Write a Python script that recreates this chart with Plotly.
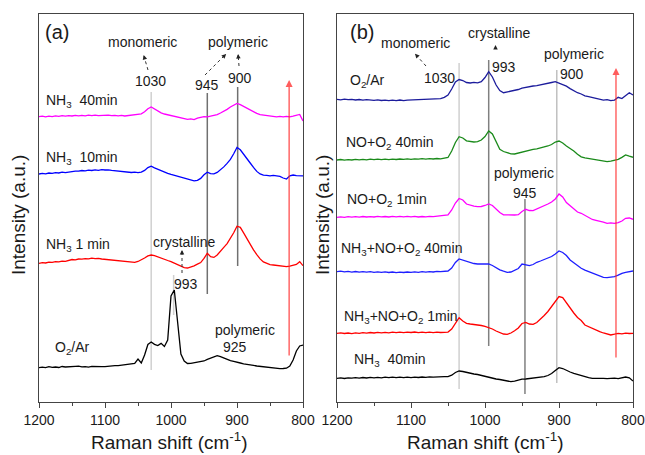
import plotly.graph_objects as go

# ---------------- data ----------------
raman_shift = list(range(1200, 795, -5))  # cm-1, 1200 -> 800

# panel (a) spectra (offset intensities, a.u.)
a_nh3_40min = [285.3, 285.8, 285.1, 285.9, 285.4, 286.1, 285.6, 286.3, 285.8, 286.4,
               286.0, 286.6, 286.1, 286.7, 286.2, 286.8, 286.3, 286.9, 286.4, 286.8,
               286.5, 286.9, 286.3, 286.7, 286.1, 286.6, 286.0, 286.5, 286.4, 287.0,
               287.4, 288.2, 290.2, 293.3, 295.0, 293.2, 290.6, 289.1, 288.0, 287.3,
               286.4, 285.6, 284.6, 284.0, 283.4, 282.7, 283.2, 282.4, 283.9, 285.0,
               285.4, 285.2, 285.9, 286.6, 287.4, 289.0, 290.6, 292.6, 295.0, 297.1,
               298.6, 297.4, 295.6, 293.4, 291.6, 289.9, 288.6, 287.4, 287.0, 286.2,
               285.9, 285.2, 285.1, 285.6, 285.1, 285.7, 285.2, 285.9, 286.6, 287.6,
               281.0]
a_nh3_10min = [228.0, 228.6, 228.2, 229.0, 228.6, 229.4, 229.0, 229.8, 229.4, 230.0,
               230.3, 230.9, 230.8, 231.5, 231.2, 231.9, 231.5, 232.2, 231.7, 232.3,
               232.0, 232.2, 231.6, 231.3, 230.6, 230.3, 229.8, 229.9, 229.5, 229.9,
               229.4, 229.9, 231.6, 234.4, 235.9, 234.2, 232.6, 231.2, 229.6, 228.6,
               227.6, 226.7, 225.6, 224.8, 223.6, 222.6, 222.1, 221.2, 221.6, 223.6,
               227.2, 229.8, 228.4, 228.1, 229.6, 232.1, 235.1, 238.6, 242.6, 248.2,
               254.5, 252.2, 248.1, 243.4, 239.0, 234.6, 230.6, 228.1, 226.8, 226.6,
               226.2, 226.6, 226.0, 225.6, 224.0, 223.0, 226.1, 227.0, 226.4, 226.5,
               226.2]
a_nh3_1min = [138.7, 139.3, 139.0, 139.8, 139.6, 140.4, 140.1, 140.9, 140.7, 141.5,
              142.5, 142.2, 143.0, 142.8, 143.4, 143.1, 143.8, 143.3, 143.6, 143.0,
              142.6, 142.1, 141.8, 141.3, 141.0, 140.5, 140.3, 139.8, 139.8, 139.6,
              140.5, 142.0, 144.0, 146.1, 147.0, 146.4, 145.0, 143.8, 142.6, 141.5,
              140.4, 138.8, 137.2, 135.9, 134.4, 134.0, 134.9, 136.2, 137.8, 139.4,
              143.6, 148.7, 145.4, 144.6, 147.1, 150.4, 154.6, 158.4, 163.6, 169.2,
              175.8, 174.6, 169.1, 163.2, 157.4, 152.1, 147.4, 143.1, 140.1, 138.4,
              137.4, 137.0, 136.6, 136.2, 135.6, 135.3, 135.9, 136.4, 137.6, 140.3,
              136.3]
a_o2_ar = [34.3, 34.9, 34.4, 35.3, 34.6, 35.0, 34.5, 35.5, 35.0, 35.4,
           35.1, 35.7, 35.8, 35.2, 35.4, 34.9, 35.6, 35.3, 35.7, 35.4,
           35.3, 35.9, 36.0, 36.4, 36.3, 36.9, 37.2, 37.8, 38.3, 38.7,
           43.0, 39.0, 47.0, 57.5, 60.0, 57.6, 56.5, 58.6, 55.5, 62.0,
           106.0, 112.0, 80.0, 48.0, 41.0, 38.5, 38.6, 39.2, 39.6, 40.5,
           41.0, 42.6, 44.0, 45.6, 46.3, 45.4, 44.1, 42.1, 41.4, 40.6,
           39.5, 39.0, 38.1, 37.8, 37.0, 36.6, 36.0, 35.6, 35.0, 34.6,
           34.0, 34.2, 33.8, 33.4, 33.5, 33.8, 36.0, 42.0, 51.0, 56.0,
           57.0]

# panel (b) spectra
b_o2_ar = [302.7, 302.2, 302.9, 302.3, 302.6, 302.0, 302.5, 301.9, 302.4, 302.0,
           301.7, 302.2, 301.5, 301.9, 301.3, 301.8, 301.4, 302.0, 301.3, 301.9,
           302.0, 302.5, 302.1, 302.8, 302.3, 302.9, 302.6, 303.2, 303.4, 304.6,
           307.0, 313.0, 320.0, 322.5, 321.5, 319.5, 319.0, 319.6, 319.2, 320.4,
           324.5, 330.3, 325.0, 317.0, 311.5, 309.3, 310.0, 310.8, 311.3, 312.5,
           313.8, 314.7, 315.5, 316.0, 316.4, 317.0, 318.0, 318.5, 319.5, 320.3,
           319.0, 317.3, 315.8, 313.4, 311.0, 309.3, 308.0, 306.2, 305.3, 304.4,
           303.0, 302.7, 301.8, 302.4, 301.3, 301.9, 304.7, 303.5, 306.8, 309.3,
           307.0]
b_no_o2_40min = [242.0, 242.5, 241.8, 242.4, 242.0, 242.6, 242.1, 242.7, 242.2, 242.8,
                 242.3, 242.9, 242.4, 242.8, 242.3, 242.9, 242.5, 243.0, 242.6, 243.1,
                 242.7, 243.2, 242.8, 243.3, 242.9, 243.4, 243.0, 243.5, 243.2, 243.7,
                 244.5, 251.0, 259.5, 265.3, 264.0, 261.2, 260.5, 260.0, 260.3, 262.0,
                 265.5, 271.0, 268.0, 261.0, 252.7, 250.5, 249.0, 248.2, 248.0, 249.0,
                 249.8, 250.5, 251.5, 252.7, 253.2, 254.0, 255.3, 256.0, 257.5, 260.0,
                 261.0, 259.0, 256.0, 253.8, 251.0, 247.8, 245.2, 244.2, 243.5, 242.7,
                 242.3, 241.5, 240.8, 240.3, 240.9, 241.6, 242.7, 244.6, 247.0, 245.8,
                 244.7]
b_no_o2_1min = [184.7, 185.2, 184.6, 185.3, 184.8, 185.4, 184.9, 185.5, 185.0, 185.4,
                185.0, 185.6, 185.1, 185.5, 185.0, 185.6, 185.2, 185.7, 185.2, 185.6,
                185.1, 185.6, 185.0, 185.5, 185.1, 185.6, 185.3, 185.8, 185.6, 186.3,
                187.0, 192.0, 199.0, 203.5, 202.0, 198.0, 196.5, 195.8, 195.3, 195.5,
                196.5, 198.0, 196.5, 193.0, 189.5, 187.2, 187.0, 186.8, 187.0, 187.3,
                190.5, 192.7, 191.5, 191.3, 192.8, 194.6, 196.0, 198.0, 200.0, 203.0,
                208.0, 205.0, 199.5, 196.0, 192.5, 190.0, 188.7, 186.5, 184.5, 182.5,
                181.6, 181.0, 179.8, 178.7, 179.2, 178.6, 179.3, 181.0, 183.7, 184.0,
                182.7]
b_nh3_no_o2_40min = [130.3, 130.8, 130.1, 130.6, 129.9, 130.5, 129.8, 130.4, 129.9, 130.3,
                     129.7, 130.2, 129.6, 130.1, 129.5, 130.0, 129.4, 129.9, 129.5, 130.0,
                     129.6, 130.1, 129.7, 130.3, 129.8, 130.4, 130.0, 130.6, 130.3, 130.8,
                     131.0, 134.0, 139.5, 143.0, 141.8, 140.3, 139.0, 138.5, 138.0, 137.8,
                     137.6, 138.0, 136.5, 134.2, 132.2, 130.8, 129.7, 130.0, 131.5, 133.5,
                     138.0, 137.5, 136.3, 137.5, 139.7, 141.0, 142.5, 144.0, 145.5, 148.0,
                     151.0, 149.5, 146.5, 142.0, 139.0, 136.5, 133.7, 131.8, 130.2, 128.8,
                     127.5, 126.0, 124.6, 124.3, 124.8, 125.3, 126.8, 128.7, 129.7, 130.5,
                     131.0]
b_nh3_no_o2_1min = [68.7, 69.2, 68.5, 69.0, 68.4, 69.1, 68.6, 69.3, 68.9, 69.5,
                    69.0, 69.6, 69.1, 69.7, 69.2, 69.8, 69.3, 69.9, 69.4, 69.9,
                    69.5, 70.0, 69.4, 69.9, 69.3, 69.8, 69.4, 69.9, 69.5, 70.0,
                    69.9, 73.0, 79.0, 84.3, 81.0, 78.7, 78.0, 77.6, 77.0, 76.5,
                    75.6, 74.6, 73.0, 71.0, 69.5, 68.0, 67.7, 69.0, 71.2, 74.0,
                    78.5, 79.6, 78.0, 77.7, 79.5, 82.8, 86.5, 90.5, 95.3, 100.5,
                    105.5, 104.5, 99.0, 93.7, 89.0, 84.5, 81.5, 77.0, 75.3, 73.5,
                    71.5, 70.3, 69.0, 68.3, 67.0, 67.8, 68.7, 68.2, 68.9, 68.5,
                    68.7]
b_nh3_40min = [23.7, 24.1, 23.5, 24.2, 23.8, 24.4, 23.9, 24.5, 24.0, 24.6,
               24.1, 24.7, 24.2, 24.8, 24.3, 24.9, 24.4, 24.8, 24.3, 24.9,
               24.4, 24.9, 24.5, 25.0, 24.6, 25.1, 24.8, 25.2, 25.0, 25.4,
               25.3, 26.8, 29.5, 31.0, 30.5, 29.5, 28.8, 28.0, 27.5, 26.5,
               25.6, 24.8, 24.0, 23.0, 22.5, 21.8, 21.0, 20.3, 20.8, 22.2,
               22.8, 23.0, 23.4, 23.8, 24.3, 24.8, 25.3, 26.5, 28.5, 31.5,
               34.3, 33.5, 31.5, 30.0, 28.7, 27.5, 26.2, 25.0, 24.3, 23.7,
               23.9, 23.4, 23.7, 23.3, 23.6, 23.9, 23.4, 24.0, 25.0, 24.2,
               21.0]

# reference band positions (cm-1) and vertical extents (a.u.)
a_band_pos = [1030, 945, 899, 996]
a_band_lo = [32, 108, 136, 87]
a_band_hi = [310, 309, 315, 127]
b_band_pos = [1035, 995, 946, 903]
b_band_lo = [13, 56, 8, 19]
b_band_hi = [339, 342, 203, 332]
arrow_a = (821, 45, 322)
arrow_b = (823, 43, 334)

x_ticks = [1200, 1100, 1000, 900, 800]

# ---------------- figure ----------------
W, H = 645, 455
FONT = "Arial, Liberation Sans, sans-serif"

def px(x):
    return x / W

def py(y):
    return 1 - y / H

fig = go.Figure()

a_series = [(a_nh3_40min, "#ff00ff"), (a_nh3_10min, "#0000ff"),
            (a_nh3_1min, "#ff0000"), (a_o2_ar, "#000000")]
b_series = [(b_o2_ar, "#1c1c9c"), (b_no_o2_40min, "#1a8a1a"),
            (b_no_o2_1min, "#ff00ff"), (b_nh3_no_o2_40min, "#1f1fff"),
            (b_nh3_no_o2_1min, "#ff0000"), (b_nh3_40min, "#000000")]

for ys, c in a_series:
    fig.add_trace(go.Scatter(x=raman_shift, y=ys, mode="lines",
                             line=dict(color=c, width=1.3), xaxis="x", yaxis="y",
                             showlegend=False))
for ys, c in b_series:
    fig.add_trace(go.Scatter(x=raman_shift, y=ys, mode="lines",
                             line=dict(color=c, width=1.3), xaxis="x2", yaxis="y2",
                             showlegend=False))

shapes = []
a_colors = ["#d0d0d0", "#707070", "#707070", "#d0d0d0"]
for p, lo, hi, c in zip(a_band_pos, a_band_lo, a_band_hi, a_colors):
    shapes.append(dict(type="line", xref="x", yref="y", x0=p, x1=p, y0=lo, y1=hi,
                       line=dict(color=c, width=1.5), layer="below"))
b_colors = ["#d0d0d0", "#808080", "#808080", "#c0c0c0"]
for p, lo, hi, c in zip(b_band_pos, b_band_lo, b_band_hi, b_colors):
    shapes.append(dict(type="line", xref="x2", yref="y2", x0=p, x1=p, y0=lo, y1=hi,
                       line=dict(color=c, width=1.5), layer="below"))

# dotted leader lines (pixel positions)
dotted = [((148, 70), (144.5, 58)), ((205, 75), (224, 56)), ((239, 66), (238.3, 57)),
          ((182, 273), (182, 253)), ((426, 66), (417, 56))]
annotations = []
for (x0, y0), (x1, y1) in dotted:
    shapes.append(dict(type="line", xref="paper", yref="paper",
                       x0=px(x0), y0=py(y0), x1=px(x1), y1=py(y1),
                       line=dict(color="#333333", width=1, dash="dot")))
    dx, dy = x0 - x1, y0 - y1
    n = (dx * dx + dy * dy) ** 0.5
    annotations.append(dict(xref="paper", yref="paper", x=px(x1 - dx / n * 3), y=py(y1 - dy / n * 3),
                            ax=dx / n * 5, ay=dy / n * 5, text="", showarrow=True,
                            arrowhead=2, arrowsize=0.9, arrowwidth=1, arrowcolor="#222"))
# tiny crystalline arrow in (b)
annotations.append(dict(xref="paper", yref="paper", x=px(495.5), y=py(45), ax=0, ay=5,
                        text="", showarrow=True, arrowhead=2, arrowsize=0.9,
                        arrowwidth=1, arrowcolor="#222"))

# red arrows
for (xv, y0, y1), xr, yr in [(arrow_a, "x", "y"), (arrow_b, "x2", "y2")]:
    annotations.append(dict(xref=xr, yref=yr, axref=xr, ayref=yr, x=xv, y=y1, ax=xv, ay=y0,
                            text="", showarrow=True, arrowhead=2, arrowsize=1,
                            arrowwidth=1.4, arrowcolor="rgba(255,40,40,0.75)"))

def label(text, x, y, size=14, anchor="center", angle=0):
    annotations.append(dict(xref="paper", yref="paper", x=px(x), y=py(y), text=text,
                            showarrow=False, xanchor=anchor, yanchor="middle",
                            textangle=angle, font=dict(family=FONT, size=size, color="#1a1a1a")))

NB = "\u00a0"
# panel (a) text
label("(a)", 57, 32, size=20)
label("monomeric", 142, 42)
label("polymeric", 238, 42)
label("1030", 150, 81)
label("945", 207, 85)
label("900", 240, 78)
label("NH<sub>3</sub>" + NB + NB + "40min", 44, 101, anchor="left")
label("NH<sub>3</sub>" + NB + NB + "10min", 44, 158, anchor="left")
label("NH<sub>3</sub> 1 min", 44, 245, anchor="left")
label("crystalline", 184, 242)
label("993", 186, 284)
label("O<sub>2</sub>/Ar", 53, 348, anchor="left")
label("polymeric", 245, 330)
label("925", 235, 347)
# panel (b) text
label("(b)", 362, 32, size=20)
label("monomeric", 415, 43)
label("crystalline", 499, 33)
label("polymeric", 574, 54)
label("1030", 439, 78)
label("993", 504, 67)
label("900", 572, 74)
label("O<sub>2</sub>/Ar", 348, 81, anchor="left")
label("NO+O<sub>2</sub> 40min", 344, 143, anchor="left")
label("polymeric", 524, 173)
label("945", 525, 193)
label("NO+O<sub>2</sub> 1min", 345, 200, anchor="left")
label("NH<sub>3</sub>+NO+O<sub>2</sub> 40min", 339, 249, anchor="left")
label("NH<sub>3</sub>+NO+O<sub>2</sub> 1min", 342, 317, anchor="left")
label("NH<sub>3</sub>" + NB + NB + "40min", 352, 360, anchor="left")
# axis titles
label("Intensity (a.u.)", 18, 215, size=19, angle=-90)
label("Intensity (a.u.)", 322, 215, size=19, angle=-90)
label("Raman shift (cm<sup>-1</sup>)", 169, 441, size=19)
label("Raman shift (cm<sup>-1</sup>)", 485, 441, size=19)

xax = dict(range=[1200, 800], tickvals=x_ticks, ticks="outside", ticklen=5, tickwidth=1,
           tickcolor="#444", showline=True, linecolor="#444", linewidth=1.2, mirror=True,
           showgrid=False, zeroline=False, automargin=False,
           tickfont=dict(family=FONT, size=14, color="#1a1a1a"),
           minor=dict(dtick=50, tick0=800, ticks="outside", ticklen=3, tickcolor="#444", showgrid=False))
yax = dict(range=[0, 388], showticklabels=False, ticks="", showline=True, linecolor="#444",
           linewidth=1.2, mirror=True, showgrid=False, zeroline=False, automargin=False)

fig.update_layout(
    width=W, height=H, margin=dict(l=0, r=0, t=0, b=0, pad=0, autoexpand=False),
    paper_bgcolor="white", plot_bgcolor="white",
    xaxis=dict(domain=[px(39), px(303)], anchor="y", **xax),
    yaxis=dict(domain=[py(402), py(14)], anchor="x", **yax),
    xaxis2=dict(domain=[px(337), px(633)], anchor="y2", **xax),
    yaxis2=dict(domain=[py(402), py(14)], anchor="x2", **yax),
    shapes=shapes, annotations=annotations, showlegend=False,
)

fig.write_html("out.html", config={"displayModeBar": False},
               post_script="document.body.style.margin='0px';document.body.style.overflow='hidden';")
